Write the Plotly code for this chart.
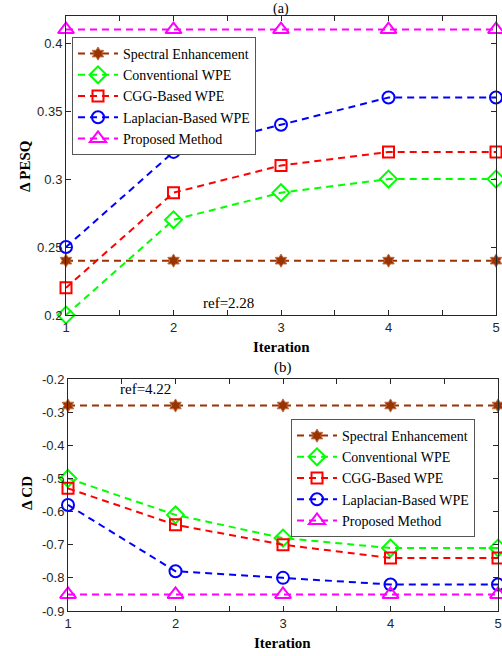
import plotly.graph_objects as go

iterations = [1, 2, 3, 4, 5]
series_names = ["Spectral Enhancement", "Conventional WPE", "CGG-Based WPE",
                "Laplacian-Based WPE", "Proposed Method"]

pesq_spectral = [0.24, 0.24, 0.24, 0.24, 0.24]
pesq_conventional = [0.20, 0.27, 0.29, 0.30, 0.30]
pesq_cgg = [0.22, 0.29, 0.31, 0.32, 0.32]
pesq_laplacian = [0.25, 0.32, 0.34, 0.36, 0.36]
pesq_proposed = [0.41, 0.41, 0.41, 0.41, 0.41]

cd_spectral = [-0.28, -0.28, -0.28, -0.28, -0.28]
cd_conventional = [-0.50, -0.61, -0.68, -0.71, -0.71]
cd_cgg = [-0.53, -0.64, -0.70, -0.74, -0.74]
cd_laplacian = [-0.58, -0.78, -0.80, -0.82, -0.82]
cd_proposed = [-0.85, -0.85, -0.85, -0.85, -0.85]

x_tickvals = [1, 1.5, 2, 2.5, 3, 3.5, 4, 4.5, 5]
x_ticktext = ["1", "", "2", "", "3", "", "4", "", "5"]
pesq_ticks = [0.2, 0.25, 0.3, 0.35, 0.4]
pesq_ticktext = ["0.2", "0.25", "0.3", "0.35", "0.4"]
cd_ticks = [-0.9, -0.8, -0.7, -0.6, -0.5, -0.4, -0.3, -0.2]
cd_ticktext = ["-0.9", "-0.8", "-0.7", "-0.6", "-0.5", "-0.4", "-0.3", "-0.2"]

colors = ["rgb(153,51,0)", "rgb(0,255,0)", "rgb(255,0,0)", "rgb(0,0,255)", "rgb(255,0,255)"]
symbols = ["hexagram", "diamond-open", "square-open", "circle-open", "triangle-up-open"]
sizes = [10, 13, 11, 12, 14]

W, H = 502, 656
SERIF = "Liberation Serif"
SANS = "Liberation Sans"
AX = "#262626"

def px_x(p):
    return p / W

def px_y(p):
    return 1 - p / H

fig = go.Figure()

pesq_all = [pesq_spectral, pesq_conventional, pesq_cgg, pesq_laplacian, pesq_proposed]
cd_all = [cd_spectral, cd_conventional, cd_cgg, cd_laplacian, cd_proposed]

for i, name in enumerate(series_names):
    mk = dict(symbol=symbols[i], size=sizes[i], color=colors[i],
              line=dict(color=colors[i] if i > 0 else "rgb(190,110,70)", width=2 if i > 0 else 1))
    fig.add_trace(go.Scatter(
        x=iterations, y=pesq_all[i], name=name, mode="lines+markers",
        line=dict(color=colors[i], width=2, dash="7px,5px"),
        marker=mk, cliponaxis=False, xaxis="x", yaxis="y", legend="legend"))
for i, name in enumerate(series_names):
    mk = dict(symbol=symbols[i], size=sizes[i], color=colors[i],
              line=dict(color=colors[i] if i > 0 else "rgb(190,110,70)", width=2 if i > 0 else 1))
    fig.add_trace(go.Scatter(
        x=iterations, y=cd_all[i], name=name, mode="lines+markers",
        line=dict(color=colors[i], width=2, dash="7px,5px"),
        marker=mk, cliponaxis=False, xaxis="x2", yaxis="y2", legend="legend2"))

axis_common = dict(showline=True, linecolor=AX, linewidth=1, mirror="ticks",
                   ticks="inside", ticklen=5, tickcolor=AX, showgrid=False,
                   zeroline=False, automargin=False,
                   tickfont=dict(family=SANS, size=13, color=AX))

legend_common = dict(xanchor="left", yanchor="top",
                     bgcolor="white", bordercolor="#555555", borderwidth=1,
                     font=dict(family=SERIF, size=14, color="black"),
                     itemwidth=40, tracegroupgap=0)

fig.update_layout(
    width=W, height=H,
    margin=dict(l=0, r=0, t=0, b=0),
    paper_bgcolor="white", plot_bgcolor="white",
    xaxis=dict(domain=[px_x(66), px_x(496)], range=[1, 5], anchor="y",
               tickvals=x_tickvals, ticktext=x_ticktext, **axis_common),
    yaxis=dict(domain=[px_y(315), px_y(16)], range=[0.2, 0.42], anchor="x",
               tickvals=pesq_ticks, ticktext=pesq_ticktext, **axis_common),
    xaxis2=dict(domain=[px_x(68), px_x(498)], range=[1, 5], anchor="y2",
                tickvals=x_tickvals, ticktext=x_ticktext, **axis_common),
    yaxis2=dict(domain=[px_y(611), px_y(379)], range=[-0.9, -0.2], anchor="x2",
                tickvals=cd_ticks, ticktext=cd_ticktext, **axis_common),
    legend=dict(x=px_x(72), y=px_y(37), **legend_common),
    legend2=dict(x=px_x(291), y=px_y(419), **legend_common),
    showlegend=True,
)

annots = [
    dict(text="(a)", x=px_x(281), y=px_y(0), yanchor="top", borderpad=0, font=dict(family=SERIF, size=14)),
    dict(text="<b>Iteration</b>", x=px_x(281), y=px_y(347), font=dict(family=SERIF, size=15)),
    dict(text="(b)", x=px_x(283), y=px_y(367), font=dict(family=SERIF, size=15)),
    dict(text="<b>Iteration</b>", x=px_x(282), y=px_y(643), font=dict(family=SERIF, size=15)),
    dict(text="<b>Δ PESQ</b>", x=px_x(25), y=px_y(166), textangle=-90, font=dict(family=SERIF, size=15)),
    dict(text="<b>Δ CD</b>", x=px_x(27), y=px_y(493), textangle=-90, font=dict(family=SERIF, size=15)),
    dict(text="ref=2.28", x=px_x(228), y=px_y(303), font=dict(family=SERIF, size=15)),
    dict(text="ref=4.22", x=px_x(145), y=px_y(389), font=dict(family=SERIF, size=15)),
]
for a in annots:
    a.setdefault("yanchor", "middle")
    a.update(xref="paper", yref="paper", showarrow=False, xanchor="center")
    a["font"]["color"] = "black"
    fig.add_annotation(**a)

fig.write_html("out.html", config={"displayModeBar": False},
               post_script="document.body.style.margin='0';document.body.style.overflow='hidden';")
